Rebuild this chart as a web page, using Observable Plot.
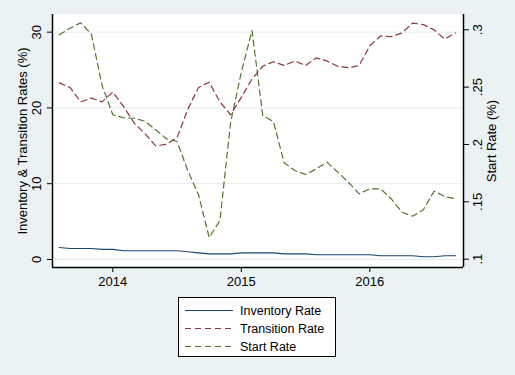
<!DOCTYPE html>
<html><head><meta charset="utf-8">
<script src="https://cdn.jsdelivr.net/npm/d3@7"></script>
<script src="https://cdn.jsdelivr.net/npm/@observablehq/plot@0.6"></script>
<style>
html,body{margin:0;padding:0;background:#eaf2f3;}
#wrap{position:relative;width:515px;height:375px;background:#eaf2f3;font-family:"Liberation Sans",Arial,sans-serif;overflow:hidden;}
#legend{position:absolute;left:178px;top:297px;width:156px;height:58px;border:1px solid #000;background:#fff;box-sizing:content-box;}
.lrow{position:absolute;left:0;height:18px;width:156px;}
.lrow svg{position:absolute;left:5px;top:0;}
.lrow span{position:absolute;left:61px;top:1px;font-size:12.5px;line-height:16px;color:#000;white-space:nowrap;}
</style></head><body><div id="wrap"></div>
<script>
const months = ["2013-08","2013-09","2013-10","2013-11","2013-12","2014-01","2014-02","2014-03","2014-04","2014-05","2014-06","2014-07","2014-08","2014-09","2014-10","2014-11","2014-12","2015-01","2015-02","2015-03","2015-04","2015-05","2015-06","2015-07","2015-08","2015-09","2015-10","2015-11","2015-12","2016-01","2016-02","2016-03","2016-04","2016-05","2016-06","2016-07","2016-08","2016-09"];
const inventory = [1.58,1.45,1.45,1.45,1.32,1.32,1.15,1.15,1.15,1.15,1.15,1.15,1.02,0.88,0.75,0.75,0.75,0.88,0.88,0.88,0.88,0.75,0.75,0.75,0.62,0.62,0.62,0.62,0.62,0.62,0.49,0.49,0.49,0.49,0.36,0.36,0.49,0.49];
const transition = [23.3,22.7,20.8,21.3,20.8,22.1,20.2,18.0,16.6,15.0,15.2,16.1,19.8,22.7,23.4,20.8,19.1,21.4,23.8,25.5,26.1,25.6,26.2,25.6,26.6,26.2,25.5,25.3,25.6,28.2,29.5,29.4,29.9,31.2,31.0,30.3,29.1,29.9];
const start = [0.2956,0.3014,0.3061,0.2962,0.2514,0.2259,0.2233,0.2229,0.2203,0.2128,0.2050,0.2026,0.1773,0.1564,0.1189,0.1337,0.2192,0.2630,0.2994,0.2253,0.2200,0.1840,0.1773,0.1738,0.1788,0.1846,0.1759,0.1671,0.1570,0.1614,0.1614,0.1527,0.1410,0.1375,0.1431,0.1593,0.1547,0.1527];

const leftTicks = [0,10,20,30];
const rightTicks = [0.1,0.15,0.2,0.25,0.3];
const rightTickLabels = [".1",".15",".2",".25",".3"];
const xTicks = [2014,2015,2016];
const leftTitle = "Inventory & Transition Rates (%)";
const rightTitle = "Start Rate (%)";
const seriesNames = ["Inventory Rate","Transition Rate","Start Rate"];
const seriesColors = ["#1a476f","#90353b","#55752f"];
const seriesDash = [null,"6,4","6,4"];

const toYear = s => { const [y,m] = s.split("-").map(Number); return y + (m-1)/12; };
// right axis (Start Rate) expressed in left-axis units
const toLeft = v => 0.035 + (v - 0.1) * 151.38;

const rows = months.map((mo,i)=>({x: toYear(mo), inv: inventory[i], tr: transition[i], st: toLeft(start[i])}));
const xDomain = [2013.5307, 2016.729];
const yDomain = [-1.06, 32.33];
const font = '"Liberation Sans", Arial, sans-serif';

const chart = Plot.plot({
  width: 515, height: 375,
  marginTop: 14, marginBottom: 108, marginLeft: 52, marginRight: 52,
  style: {background: "transparent", fontFamily: font, fontSize: "13px", color: "#000"},
  x: {type: "linear", domain: xDomain},
  y: {domain: yDomain},
  marks: [
    Plot.frame({fill: "white", stroke: "none"}),
    Plot.gridY(leftTicks, {stroke: "#e2eaed", strokeOpacity: 1, strokeWidth: 1}),
    Plot.line(rows, {x: "x", y: "inv", stroke: seriesColors[0], strokeWidth: 1.2}),
    Plot.line(rows, {x: "x", y: "tr", stroke: seriesColors[1], strokeWidth: 1.2, strokeDasharray: seriesDash[1]}),
    Plot.line(rows, {x: "x", y: "st", stroke: seriesColors[2], strokeWidth: 1.2, strokeDasharray: seriesDash[2]}),
    Plot.ruleX([xDomain[0], xDomain[1]], {stroke: "#000", strokeWidth: 1.5}),
    Plot.ruleY([yDomain[0]], {stroke: "#000", strokeWidth: 1.5}),
    Plot.axisX(xTicks, {anchor: "bottom", tickSize: 5, tickPadding: 4, tickFormat: d => String(d), label: null, fontSize: 13}),
    Plot.axisY(leftTicks, {anchor: "left", tickSize: 5, tickFormat: () => "", label: null}),
    Plot.text(leftTicks, {y: d => d, text: d => String(d), frameAnchor: "left", dx: -16, rotate: -90, textAnchor: "middle", lineAnchor: "middle", fontSize: 13}),
    Plot.axisY(rightTicks.map(toLeft), {anchor: "right", tickSize: 5, tickFormat: () => "", label: null}),
    Plot.text(rightTicks, {y: d => toLeft(d), text: (d, i) => rightTickLabels[i], frameAnchor: "right", dx: 14, rotate: -90, textAnchor: "middle", lineAnchor: "middle", fontSize: 13}),
    Plot.text([leftTitle], {text: d => d, frameAnchor: "left", dx: -30, rotate: -90, textAnchor: "middle", lineAnchor: "middle", fontSize: 13}),
    Plot.text([rightTitle], {text: d => d, frameAnchor: "right", dx: 28, rotate: -90, textAnchor: "middle", lineAnchor: "middle", fontSize: 13})
  ]
});

const wrap = document.getElementById("wrap");
wrap.appendChild(chart);

const legend = document.createElement("div");
legend.id = "legend";
const rowTops = [4, 22, 40];
seriesNames.forEach((name, i) => {
  const r = document.createElement("div");
  r.className = "lrow";
  r.style.top = rowTops[i] + "px";
  const dash = seriesDash[i] ? ` stroke-dasharray="${seriesDash[i]}"` : "";
  r.innerHTML = `<svg width="50" height="18"><line x1="1" y1="8.5" x2="49" y2="8.5" stroke="${seriesColors[i]}" stroke-width="1.2"${dash}/></svg><span>${name}</span>`;
  legend.appendChild(r);
});
wrap.appendChild(legend);
</script>
</body></html>
